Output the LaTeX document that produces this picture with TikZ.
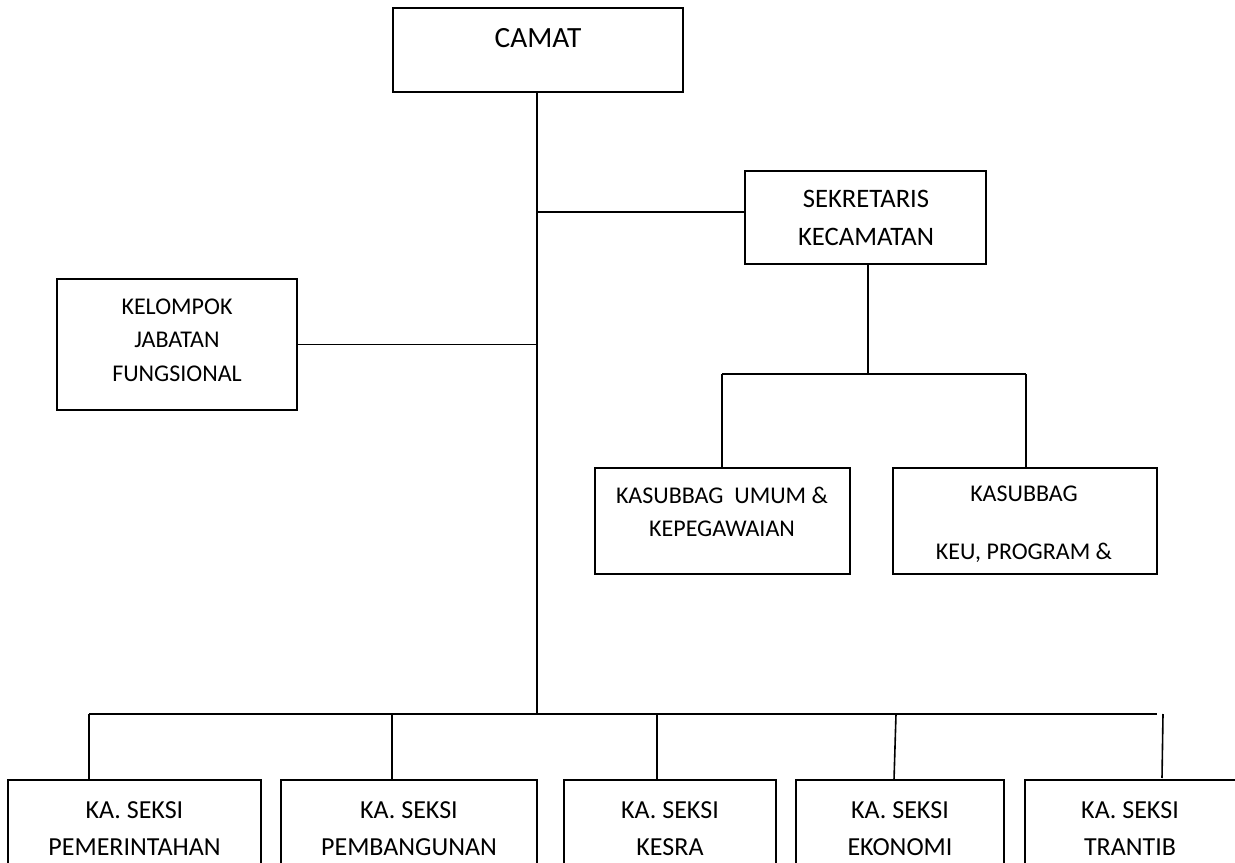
\documentclass[tikz,border=0pt]{standalone}
\usepackage{fontspec}
\setmainfont{Carlito}
\begin{document}
\begin{tikzpicture}[x=0.75pt,y=-0.75pt,
  box/.style={draw, line width=1.3pt, rectangle, inner sep=0pt},
  conn/.style={line width=1.2pt},
  txt/.style={align=center, inner sep=0pt}]
\useasboundingbox (0,0) rectangle (1235,863);
\clip (0,0) rectangle (1235,863);
% boxes
\node[box, minimum width=290*0.75pt, minimum height=84*0.75pt] (camat) at (538,50) {};
\node[box, minimum width=241*0.75pt, minimum height=93*0.75pt] (sek) at (865.5,217.5) {};
\node[box, minimum width=240*0.75pt, minimum height=131*0.75pt] (kel) at (177,344.5) {};
\node[box, minimum width=255*0.75pt, minimum height=106*0.75pt] (umum) at (722.5,521) {};
\node[box, minimum width=264*0.75pt, minimum height=106*0.75pt] (keu) at (1025,521) {};
\node[box, minimum width=253*0.75pt, minimum height=160*0.75pt] (p1) at (134.5,860) {};
\node[box, minimum width=256*0.75pt, minimum height=160*0.75pt] (p2) at (409,860) {};
\node[box, minimum width=212*0.75pt, minimum height=160*0.75pt] (p3) at (670,860) {};
\node[box, minimum width=208*0.75pt, minimum height=160*0.75pt] (p4) at (900,860) {};
\node[box, minimum width=235*0.75pt, minimum height=160*0.75pt] (p5) at (1142.5,860) {};
% texts
\node[txt, font=\fontsize{22}{26}\selectfont] (tcamat) at (538,38.5) {CAMAT};
\node[txt, font=\fontsize{20}{28.5}\selectfont] (tsek) at (866,218) {SEKRETARIS\\KECAMATAN};
\node[txt, font=\fontsize{18}{25}\selectfont] (tkel) at (177,340) {KELOMPOK\\JABATAN\\FUNGSIONAL};
\node[txt, font=\fontsize{18}{24.75}\selectfont] (tumum) at (722,511.5) {KASUBBAG\ \ UMUM \&\\KEPEGAWAIAN};
\node[txt, font=\fontsize{18}{43.5}\selectfont] (tkeu) at (1024,524) {KASUBBAG\\KEU, PROGRAM \&};
\node[txt, font=\fontsize{19.5}{27.75}\selectfont] (tp1) at (134.5,828.5) {KA. SEKSI\\PEMERINTAHAN};
\node[txt, font=\fontsize{19.5}{27.75}\selectfont] (tp2) at (409,828.5) {KA. SEKSI\\PEMBANGUNAN};
\node[txt, font=\fontsize{19.5}{27.75}\selectfont] (tp3) at (670,828.5) {KA. SEKSI\\KESRA};
\node[txt, font=\fontsize{19.5}{27.75}\selectfont] (tp4) at (900,828.5) {KA. SEKSI\\EKONOMI};
\node[txt, font=\fontsize{19.5}{27.75}\selectfont] (tp5) at (1130,828.5) {KA. SEKSI\\TRANTIB};
% junctions
\coordinate (j1) at (537,212);
\coordinate (j3) at (537,714);
\coordinate (j4) at (868,374);
\coordinate (a1) at (722,374);
\coordinate (a2) at (1026,374);
\coordinate (b1) at (89,714);
\coordinate (b2) at (392,714);
\coordinate (b3) at (657,714);
\coordinate (b4) at (896,714);
\coordinate (b5) at (1157,714);
\coordinate (t1) at (1163,714);
\coordinate (t2) at (1162,778);
% connectors
\draw[conn] (camat.south -| j1) -- (j3);
\draw[conn] (j1) -- (j1 -| sek.west);
\draw[conn] (kel.east) -- (kel.east -| j1);
\draw[conn] (sek.south -| j4) -- (j4);
\draw[conn] (a1) -- (a2);
\draw[conn] (a1) -- (a1 |- umum.north);
\draw[conn] (a2) -- (a2 |- keu.north);
\draw[conn] (b1) -- (b5);
\draw[conn] (b1) -- (b1 |- p1.north);
\draw[conn] (b2) -- (b2 |- p2.north);
\draw[conn] (b3) -- (b3 |- p3.north);
\draw[conn] (b4) -- (894,780);
\draw[conn] (t1) -- (t2);
\end{tikzpicture}
\end{document}
